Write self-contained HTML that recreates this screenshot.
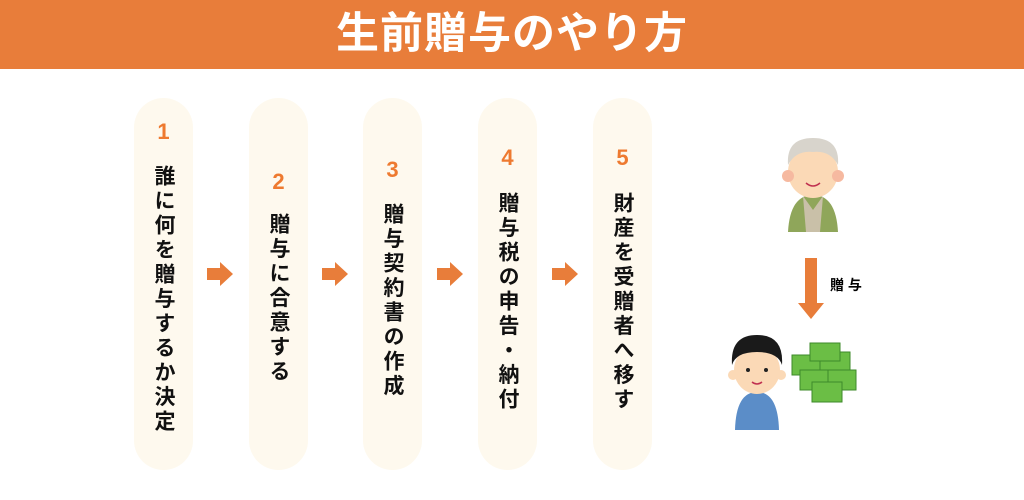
<!DOCTYPE html>
<html><head><meta charset="utf-8"><style>
body{margin:0;width:1024px;height:500px;background:#fff;position:relative;overflow:hidden;font-family:"Liberation Sans","Noto Sans CJK JP",sans-serif}
.hd{position:absolute;left:0;top:0;width:1024px;height:69px;background:#E87D3A;color:#fff;font-weight:bold;font-size:43px;text-align:center;line-height:69px;letter-spacing:1px}
.p{position:absolute;top:98px;width:59px;height:372px;background:#FEF9EE;border-radius:30px}
.n{position:absolute;width:59px;text-align:center;color:#EE7A30;font-weight:bold;font-size:22px}
.t{position:absolute;writing-mode:vertical-rl;font-weight:bold;font-size:21px;letter-spacing:3.5px;color:#111;line-height:21px}
.ar{position:absolute;top:262px;width:26px;height:24px}
</style></head><body>
<div class="hd">生前贈与のやり方</div>

<div class="p" style="left:134px"></div>
<div class="n" style="left:134px;top:119px">1</div>
<div class="t" style="left:153px;top:165px">誰に何を贈与するか決定</div>

<div class="p" style="left:249px"></div>
<div class="n" style="left:249px;top:169px">2</div>
<div class="t" style="left:268px;top:213px">贈与に合意する</div>

<div class="p" style="left:363px"></div>
<div class="n" style="left:363px;top:157px">3</div>
<div class="t" style="left:382px;top:203px">贈与契約書の作成</div>

<div class="p" style="left:478px"></div>
<div class="n" style="left:478px;top:145px">4</div>
<div class="t" style="left:497px;top:192px">贈与税の申告・納付</div>

<div class="p" style="left:593px"></div>
<div class="n" style="left:593px;top:145px">5</div>
<div class="t" style="left:612px;top:192px">財産を受贈者へ移す</div>

<svg class="ar" style="left:207px" viewBox="0 0 26 24"><path d="M0 6H13V0L26 12L13 24V18H0Z" fill="#E87D3A"/></svg>
<svg class="ar" style="left:322px" viewBox="0 0 26 24"><path d="M0 6H13V0L26 12L13 24V18H0Z" fill="#E87D3A"/></svg>
<svg class="ar" style="left:437px" viewBox="0 0 26 24"><path d="M0 6H13V0L26 12L13 24V18H0Z" fill="#E87D3A"/></svg>
<svg class="ar" style="left:552px" viewBox="0 0 26 24"><path d="M0 6H13V0L26 12L13 24V18H0Z" fill="#E87D3A"/></svg>

<svg style="position:absolute;left:700px;top:120px" width="200" height="320" viewBox="0 0 200 320">
 <path d="M88 112 Q90 75 113 75 Q136 75 138 112Z" fill="#8FA65A"/>
 <path d="M103 76 L113 90 L123 76 L120 112 L106 112Z" fill="#C9C0A8"/>
 <ellipse cx="113" cy="52" rx="25" ry="26" fill="#FBD9B6"/>
 <path d="M88 45 Q86 18 113 18 Q140 18 138 45 Q130 30 113 32 Q96 30 88 45Z" fill="#D8D4CC"/>
 <circle cx="88" cy="56" r="6" fill="#F6B9A0"/><circle cx="138" cy="56" r="6" fill="#F6B9A0"/>
 <path d="M106 63 Q113 69 120 63" stroke="#C03050" stroke-width="1.5" fill="none"/>
 <rect x="105" y="138" width="12" height="46" fill="#E87D3A"/>
 <path d="M98 183 H124 L111 199Z" fill="#E87D3A"/>
 <text x="130" y="170" font-size="14" font-weight="bold" font-family="Liberation Sans,Noto Sans CJK JP,sans-serif">贈 与</text>
 <path d="M35 310 Q36 272 57 272 Q78 272 79 310Z" fill="#5B8DC8"/>
 <ellipse cx="57" cy="250" rx="23" ry="24" fill="#FBD9B6"/>
 <path d="M32 245 Q30 215 57 215 Q84 215 82 245 Q78 232 57 232 Q36 232 32 245Z" fill="#1A1A1A"/>
 <circle cx="33" cy="255" r="5" fill="#FBD9B6"/><circle cx="81" cy="255" r="5" fill="#FBD9B6"/>
 <circle cx="48" cy="250" r="2" fill="#222"/><circle cx="66" cy="250" r="2" fill="#222"/>
 <path d="M52 262 Q57 266 62 262" stroke="#C03050" stroke-width="1.5" fill="none"/>
 <g fill="#6BBE45" stroke="#3E8A2A" stroke-width="1">
  <rect x="92" y="235" width="30" height="20"/><rect x="120" y="232" width="30" height="20"/>
  <rect x="100" y="250" width="30" height="20"/><rect x="128" y="250" width="28" height="20"/>
  <rect x="110" y="223" width="30" height="18"/><rect x="112" y="262" width="30" height="20"/>
 </g>
</svg>
</body></html>
